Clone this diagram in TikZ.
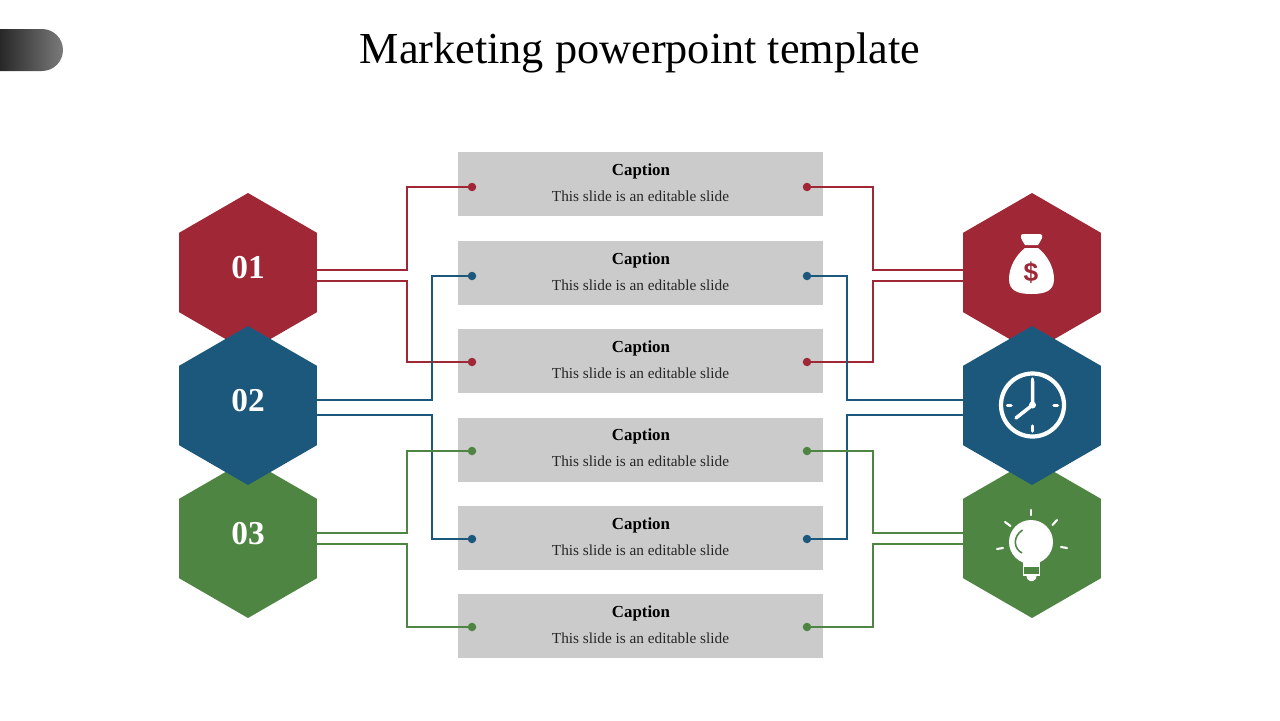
\documentclass[tikz,border=0pt]{standalone}
\usepackage{fontspec}
\setmainfont{Liberation Serif}
\setsansfont{Liberation Sans}
\usetikzlibrary{shapes.geometric}
\definecolor{hexred}{HTML}{A02836}
\definecolor{hexblue}{HTML}{1B587C}
\definecolor{hexgreen}{HTML}{4E8542}
\definecolor{boxgray}{HTML}{CBCBCB}
\tikzset{
  hex/.style={regular polygon,regular polygon sides=6,shape border rotate=30,minimum size=3.18cm,inner sep=0pt,fill=#1},
  capbox/.style={fill=boxgray,minimum width=7.3cm,minimum height=1.28cm,inner sep=0pt},
  capt/.style={font=\fontsize{9.6}{11}\selectfont\bfseries,inner sep=0pt},
  capd/.style={font=\fontsize{8.7}{10}\selectfont,inner sep=0pt,text=black!85},
  num/.style={font=\fontsize{19}{22}\selectfont\bfseries,text=white,inner sep=0pt},
  dot/.style={circle,fill=#1,minimum size=0.17cm,inner sep=0pt},
  link/.style={draw=#1,line width=0.85pt},
  ico/.style={draw=white,line width=2pt,line cap=round},
  ray/.style={draw=white,line width=1.2pt,line cap=round}
}
\begin{document}
\begin{tikzpicture}[x=0.02cm,y=-0.02cm]
      \useasboundingbox (0,0) rectangle (1280,720);
      \shade[left color=black,right color=black!52,rounded corners=0.42cm] (-30,29) rectangle (63,71);
      \node[font=\fontsize{25.2}{29}\selectfont,inner sep=0pt] (title) at (640,53) {Marketing powerpoint template};

      \foreach \n/\y/\d/\c in {1/184/187/hexred,2/273/276/hexblue,3/361/362/hexred,4/449.5/451/hexgreen,5/538/539/hexblue,6/626/627/hexgreen} {
        \node[capbox] (box\n) at (640.5,\y) {};
        \node[capt] (cap\n) at (641,\y-13) {Caption};
        \node[capd] (txt\n) at (640.5,\y+12) {This slide is an editable slide};
        \node[dot=\c] (dl\n) at (472,\d) {};
        \node[dot=\c] (dr\n) at (807,\d) {};
      }

      \coordinate (bl1) at (407,0);
      \coordinate (bl2) at (432,0);
      \coordinate (br1) at (873,0);
      \coordinate (br2) at (847,0);
      \foreach \n/\y in {a/270,b/281,c/400,d/415,e/533,f/544} {
        \coordinate (ol\n) at (317,\y);
        \coordinate (or\n) at (963,\y);
      }
      \draw[link=hexred] (ola) -- (ola -| bl1) |- (dl1.center);
      \draw[link=hexred] (olb) -- (olb -| bl1) |- (dl3.center);
      \draw[link=hexblue] (olc) -- (olc -| bl2) |- (dl2.center);
      \draw[link=hexblue] (old) -- (old -| bl2) |- (dl5.center);
      \draw[link=hexgreen] (ole) -- (ole -| bl1) |- (dl4.center);
      \draw[link=hexgreen] (olf) -- (olf -| bl1) |- (dl6.center);
      \draw[link=hexred] (ora) -- (ora -| br1) |- (dr1.center);
      \draw[link=hexred] (orb) -- (orb -| br1) |- (dr3.center);
      \draw[link=hexblue] (orc) -- (orc -| br2) |- (dr2.center);
      \draw[link=hexblue] (ord) -- (ord -| br2) |- (dr5.center);
      \draw[link=hexgreen] (ore) -- (ore -| br1) |- (dr4.center);
      \draw[link=hexgreen] (orf) -- (orf -| br1) |- (dr6.center);

      \node[hex=hexred] (hl1) at (248,272.5) {};
      \node[hex=hexgreen] (hl3) at (248,538.5) {};
      \node[hex=hexblue] (hl2) at (248,405.5) {};
      \node[hex=hexred] (hr1) at (1032,272.5) {};
      \node[hex=hexgreen] (hr3) at (1032,538.5) {};
      \node[hex=hexblue] (hr2) at (1032,405.5) {};
      \node[num] (num1) at (248,268) {01};
      \node[num] (num2) at (248,401) {02};
      \node[num] (num3) at (248,534) {03};

      % bag
      \fill[white] (1024,234) -- (1039,234) .. controls (1042,234) and (1043,236) .. (1042,238) .. controls (1041,241) and (1039,243) .. (1038,245) -- (1025,245) .. controls (1024,243) and (1022,241) .. (1021,238) .. controls (1020,236) and (1021,234) .. (1024,234) -- cycle;
      \fill[white] (1025,248) -- (1038,248) .. controls (1047,255) and (1054,267) .. (1054,279) .. controls (1054,291) and (1045,294) .. (1031.5,294) .. controls (1018,294) and (1009,291) .. (1009,279) .. controls (1009,267) and (1016,255) .. (1025,248) -- cycle;
      \node[font=\sffamily\bfseries\fontsize{15}{17}\selectfont,text=hexred,inner sep=0pt] (usd) at (1031,273) {\$};

      % clock
      \draw[white,line width=2.4pt] (1032.5,405) circle (31.5);
      \draw[ico] (1032.5,381) -- (1032.5,405) -- (1016,418);
      \fill[white] (1032.5,405) circle (3.5);
      \draw[ico] (1032.5,379) -- (1032.5,384);
      \draw[ico] (1032.5,426) -- (1032.5,431);
      \draw[ico] (1007.5,405.5) -- (1011,405.5);
      \draw[ico] (1054,405.5) -- (1057.5,405.5);

      % bulb
      \fill[white] (1031,542) circle (22);
      \fill[white] (1022.5,556) rectangle (1040,576);
      \fill[white,rounded corners=0.04cm] (1026,575) -- (1037,575) -- (1035,581) -- (1028,581) -- cycle;
      \fill[hexgreen] (1024,566.5) rectangle (1038.5,573.5);
      \draw[hexgreen,line width=0.9pt] (1022.5,530) .. controls (1012,537) and (1014,549) .. (1022,553);
      \draw[ray] (1031,510) -- (1031,515);
      \draw[ray] (1005,522) -- (1010.5,526);
      \draw[ray] (1052.5,525) -- (1057,520);
      \draw[ray] (997,549) -- (1003,548);
      \draw[ray] (1061,547) -- (1067,548);
    \end{tikzpicture}
\end{document}
